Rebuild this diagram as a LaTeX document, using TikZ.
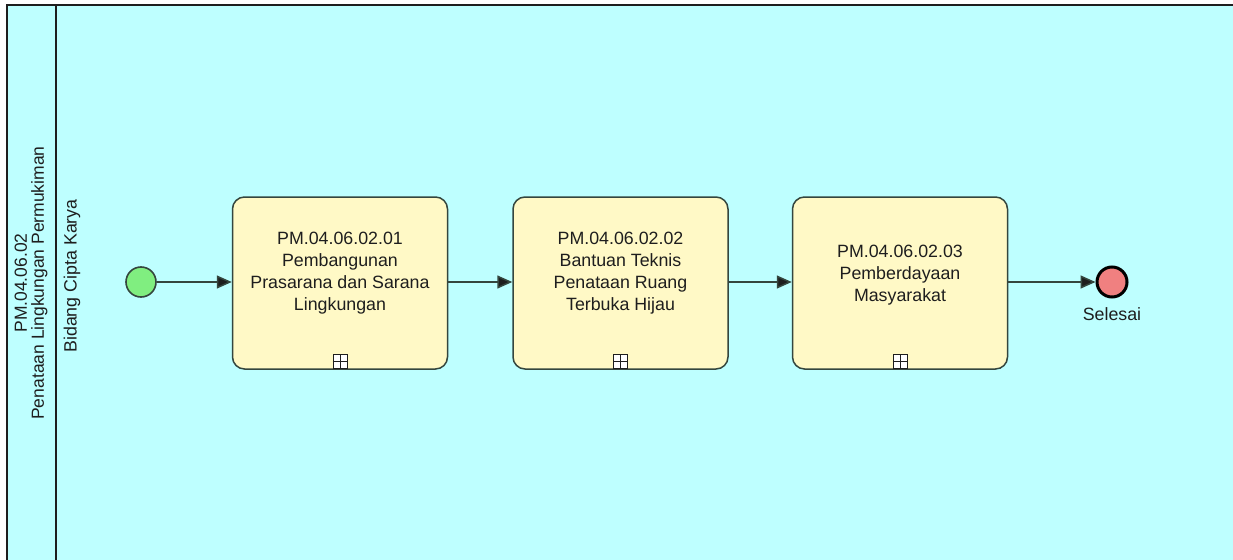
\documentclass[tikz,border=0pt]{standalone}
\usepackage{fontspec}
\setmainfont{Liberation Sans}
\usetikzlibrary{arrows.meta,positioning}
\definecolor{lanebg}{RGB}{190,255,255}
\definecolor{taskbg}{RGB}{255,249,198}
\definecolor{edge}{RGB}{52,70,62}
\definecolor{ink}{RGB}{30,30,30}
\definecolor{startg}{RGB}{128,238,128}
\definecolor{endr}{RGB}{240,128,128}
\tikzset{
  task/.style={draw=edge,line width=1.5pt,rounded corners=12pt,fill=taskbg,
    minimum width=215pt,minimum height=172pt},
  lbl/.style={text=ink,align=center,font=\fontsize{17.8}{22}\selectfont},
  flow/.style={draw=edge,line width=1.5pt,-{Triangle[length=15pt,width=13pt,fill=ink]}},
  startev/.style={circle,draw=edge,line width=1.6pt,fill=startg,minimum size=30pt,inner sep=0pt},
  endev/.style={circle,draw=black,line width=3pt,fill=endr,minimum size=30pt,inner sep=0pt},
  collapsed/.style={draw=ink,line width=1pt,fill=white,minimum size=14pt,inner sep=0pt},
}

\begin{document}
\begin{tikzpicture}[x=1pt,y=-1pt]
  \useasboundingbox (0,0) rectangle (1233,559);
  \clip (0,0) rectangle (1233,559);
  % pool and lane
  \fill[white] (0,0) rectangle (1233,559);
  \draw[fill=lanebg,draw=ink,line width=2pt] (7,5) rectangle (1260,600);
  \draw[ink,line width=2pt] (56,5) -- (56,600);
  \node[lbl,rotate=90,font=\fontsize{17.5}{17}\selectfont] (pool) at (31,283)
    {PM.04.06.02\\Penataan Lingkungan Permukiman};
  \node[lbl,rotate=90] (lane) at (72,276) {Bidang Cipta Karya};
  % events and tasks
  \node[startev] (start) at (141,282) {};
  \node[task] (t1) at (340,283) {};
  \node[task,right=64pt of t1] (t2) {};
  \node[task,right=63pt of t2] (t3) {};
  \node[endev] (stop) at (1112,282) {};
  \node[lbl,below=6pt of stop] (stoplbl) {Selesai};
  \node[lbl] (t1txt) at (t1.center) [yshift=10pt]
    {PM.04.06.02.01\\Pembangunan\\Prasarana dan Sarana\\Lingkungan};
  \node[lbl] (t2txt) at (t2.center) [yshift=10pt]
    {PM.04.06.02.02\\Bantuan Teknis\\Penataan Ruang\\Terbuka Hijau};
  \node[lbl] (t3txt) at (t3.center) [yshift=8pt]
    {PM.04.06.02.03\\Pemberdayaan\\Masyarakat};
  \foreach \t in {t1,t2,t3}{
    \node[collapsed,above=0.5pt of \t.south] (\t m) {};
    \draw[ink,line width=1pt] (\t m.north) -- (\t m.south) (\t m.west) -- (\t m.east);
  }
  % sequence flows
  \draw[flow] (start) -- (t1.west |- start);
  \draw[flow] (t1.east |- start) -- (t2.west |- start);
  \draw[flow] (t2.east |- start) -- (t3.west |- start);
  \draw[flow] (t3.east |- start) -- (stop);
\end{tikzpicture}
\end{document}
